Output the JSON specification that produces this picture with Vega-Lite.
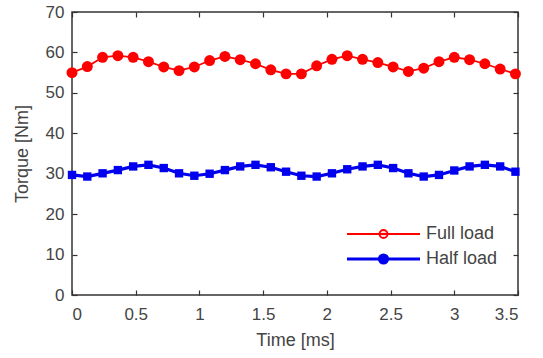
{
  "$schema": "https://vega.github.io/schema/vega-lite/v6.json",
  "width": 446,
  "height": 283,
  "autosize": {"type": "none"},
  "padding": {"left": 72, "top": 12, "right": 25, "bottom": 63},
  "background": "white",
  "config": {
    "font": "Liberation Sans",
    "view": {"stroke": "#333333", "strokeWidth": 1.5},
    "axis": {
      "grid": false,
      "domain": false,
      "tickSize": -5,
      "tickColor": "#333333",
      "tickWidth": 1.2,
      "labelFontSize": 17,
      "labelColor": "#444444",
      "titleFontSize": 18,
      "titleFontWeight": "normal",
      "titleColor": "#444444"
    }
  },
  "data": {
    "values": [
      {"series": "Full load", "time": 0, "torque": 55.0},
      {"series": "Full load", "time": 0.12, "torque": 56.5},
      {"series": "Full load", "time": 0.24, "torque": 58.8},
      {"series": "Full load", "time": 0.36, "torque": 59.2},
      {"series": "Full load", "time": 0.48, "torque": 58.8},
      {"series": "Full load", "time": 0.6, "torque": 57.7},
      {"series": "Full load", "time": 0.72, "torque": 56.4},
      {"series": "Full load", "time": 0.84, "torque": 55.5},
      {"series": "Full load", "time": 0.96, "torque": 56.4},
      {"series": "Full load", "time": 1.08, "torque": 58.0},
      {"series": "Full load", "time": 1.2, "torque": 59.0},
      {"series": "Full load", "time": 1.32, "torque": 58.2},
      {"series": "Full load", "time": 1.44, "torque": 57.2},
      {"series": "Full load", "time": 1.56, "torque": 55.7},
      {"series": "Full load", "time": 1.68, "torque": 54.7},
      {"series": "Full load", "time": 1.8, "torque": 54.7},
      {"series": "Full load", "time": 1.92, "torque": 56.7},
      {"series": "Full load", "time": 2.04, "torque": 58.3},
      {"series": "Full load", "time": 2.16, "torque": 59.2},
      {"series": "Full load", "time": 2.28, "torque": 58.3},
      {"series": "Full load", "time": 2.4, "torque": 57.5},
      {"series": "Full load", "time": 2.52, "torque": 56.4},
      {"series": "Full load", "time": 2.64, "torque": 55.3},
      {"series": "Full load", "time": 2.76, "torque": 56.1},
      {"series": "Full load", "time": 2.88, "torque": 57.7},
      {"series": "Full load", "time": 3.0, "torque": 58.8},
      {"series": "Full load", "time": 3.12, "torque": 58.2},
      {"series": "Full load", "time": 3.24, "torque": 57.2},
      {"series": "Full load", "time": 3.36, "torque": 55.9},
      {"series": "Full load", "time": 3.48, "torque": 54.7},
      {"series": "Half load", "time": 0, "torque": 29.7},
      {"series": "Half load", "time": 0.12, "torque": 29.3},
      {"series": "Half load", "time": 0.24, "torque": 30.1},
      {"series": "Half load", "time": 0.36, "torque": 30.9},
      {"series": "Half load", "time": 0.48, "torque": 31.8},
      {"series": "Half load", "time": 0.6, "torque": 32.2},
      {"series": "Half load", "time": 0.72, "torque": 31.4},
      {"series": "Half load", "time": 0.84, "torque": 30.1},
      {"series": "Half load", "time": 0.96, "torque": 29.5},
      {"series": "Half load", "time": 1.08, "torque": 30.0},
      {"series": "Half load", "time": 1.2, "torque": 30.9},
      {"series": "Half load", "time": 1.32, "torque": 31.8},
      {"series": "Half load", "time": 1.44, "torque": 32.2},
      {"series": "Half load", "time": 1.56, "torque": 31.6},
      {"series": "Half load", "time": 1.68, "torque": 30.5},
      {"series": "Half load", "time": 1.8, "torque": 29.5},
      {"series": "Half load", "time": 1.92, "torque": 29.3},
      {"series": "Half load", "time": 2.04, "torque": 30.1},
      {"series": "Half load", "time": 2.16, "torque": 31.1},
      {"series": "Half load", "time": 2.28, "torque": 31.8},
      {"series": "Half load", "time": 2.4, "torque": 32.2},
      {"series": "Half load", "time": 2.52, "torque": 31.4},
      {"series": "Half load", "time": 2.64, "torque": 30.1},
      {"series": "Half load", "time": 2.76, "torque": 29.3},
      {"series": "Half load", "time": 2.88, "torque": 29.7},
      {"series": "Half load", "time": 3.0, "torque": 30.8},
      {"series": "Half load", "time": 3.12, "torque": 31.8},
      {"series": "Half load", "time": 3.24, "torque": 32.2},
      {"series": "Half load", "time": 3.36, "torque": 31.8},
      {"series": "Half load", "time": 3.48, "torque": 30.5}
    ]
  },
  "layer": [
    {
      "mark": {"type": "line"},
      "encoding": {
        "x": {
          "field": "time", "type": "quantitative",
          "scale": {"domain": [0, 3.5], "nice": false, "zero": false},
          "axis": {"orient": "bottom", "values": [0, 0.5, 1, 1.5, 2, 2.5, 3, 3.5], "format": "~g", "title": "Time [ms]", "labelPadding": 16, "titlePadding": 9}
        },
        "y": {
          "field": "torque", "type": "quantitative",
          "scale": {"domain": [0, 70], "nice": false},
          "axis": {"orient": "left", "values": [0, 10, 20, 30, 40, 50, 60, 70], "title": "Torque [Nm]", "labelPadding": 13, "titlePadding": 14}
        },
        "strokeWidth": {
          "field": "series", "type": "nominal",
          "scale": {"domain": ["Full load", "Half load"], "range": [1.8, 3.2]},
          "legend": null
        },
        "color": {
          "field": "series", "type": "nominal",
          "scale": {"domain": ["Full load", "Half load"], "range": ["#ff0000", "#0000ee"]},
          "legend": {
            "orient": "none",
            "legendX": 273,
            "legendY": 211,
            "title": null,
            "padding": 0,
            "labelFontSize": 18,
            "labelColor": "#444444",
            "symbolType": "M-1,0H6.3M2.25,0A0.4,0.4 0 1,1 3.05,0A0.4,0.4 0 1,1 2.25,0",
            "symbolSize": 400,
            "symbolStrokeWidth": 2,
            "rowPadding": 4,
            "labelOffset": 57,
            "encode": {
              "symbols": {
                "update": {
                  "fill": {"signal": "datum.value === 'Full load' ? '#ffdddd' : '#0000ee'"},
                  "strokeWidth": {"signal": "datum.value === 'Full load' ? 1.8 : 3.2"}
                }
              }
            }
          }
        }
      }
    },
    {
      "transform": [{"filter": "datum.series === 'Full load'"}],
      "mark": {"type": "point", "filled": true, "opacity": 1, "shape": "circle", "size": 120, "color": "#ff0000"},
      "encoding": {
        "x": {
          "field": "time", "type": "quantitative",
          "axis": {"orient": "top", "values": [0, 0.5, 1, 1.5, 2, 2.5, 3, 3.5], "labels": false, "title": null}
        },
        "y": {
          "field": "torque", "type": "quantitative",
          "axis": {"orient": "right", "values": [0, 10, 20, 30, 40, 50, 60, 70], "labels": false, "title": null}
        }
      }
    },
    {
      "transform": [{"filter": "datum.series === 'Half load'"}],
      "mark": {"type": "point", "filled": true, "opacity": 1, "shape": "square", "size": 70, "color": "#0000ee"},
      "encoding": {
        "x": {"field": "time", "type": "quantitative", "axis": null},
        "y": {"field": "torque", "type": "quantitative", "axis": null}
      }
    }
  ],
  "resolve": {"axis": {"x": "independent", "y": "independent"}}
}
